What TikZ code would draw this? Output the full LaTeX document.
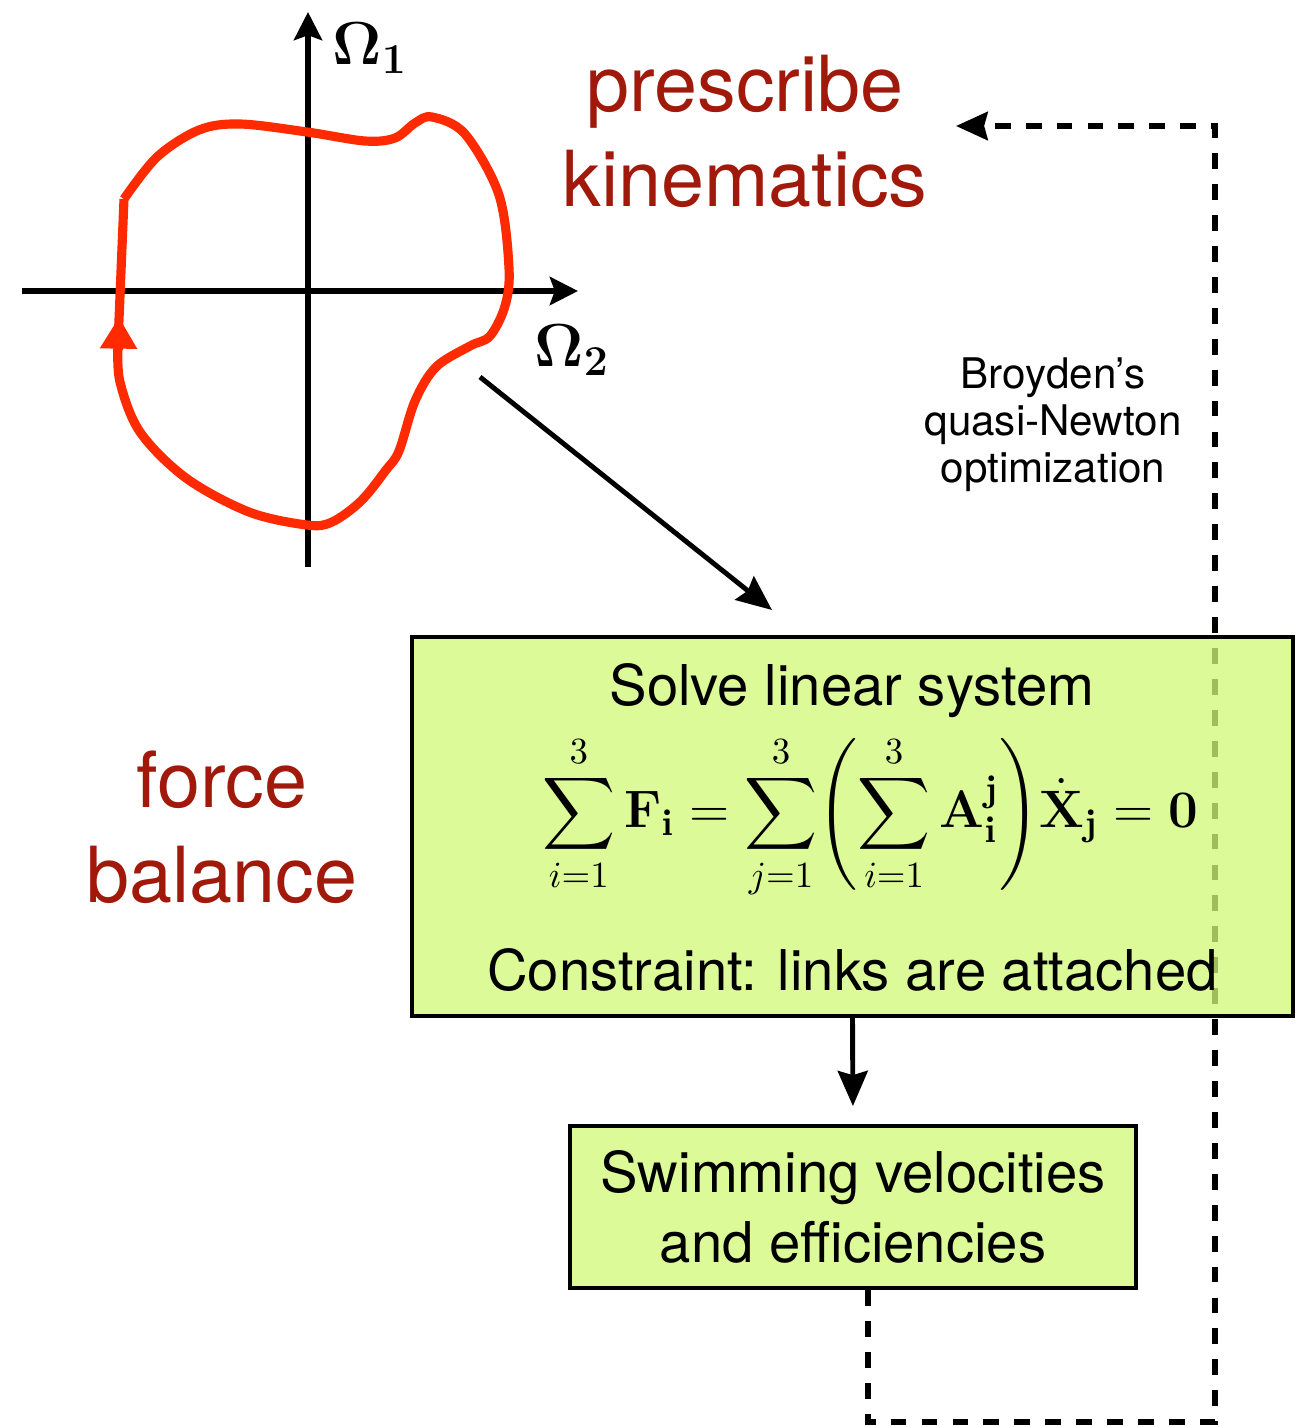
\RequirePackage{fix-cm}
\documentclass[tikz,border=0pt]{standalone}
\usepackage[no-math]{fontspec}
\setmainfont{TeX Gyre Heros}
\usepackage{amsmath}
\usetikzlibrary{arrows.meta,positioning,calc}
\definecolor{KinRed}{HTML}{A0190B}
\definecolor{CurveRed}{HTML}{FF2A00}
\definecolor{PanelGreen}{HTML}{DDFA99}
\definecolor{PanelBase}{HTML}{D2F979}
\tikzset{
  axis/.style={line width=1.6pt, -{Stealth[length=8pt, width=8pt, inset=1.4pt]}},
  gait/.style={draw=CurveRed, line width=2.6pt, line join=round},
  gaittip/.style={draw=CurveRed, fill=CurveRed, line width=2.6pt, -{Triangle[length=9pt, width=10pt]}},
  axislabel/.style={font=\fontsize{17.3}{19}\selectfont},
  bigword/.style={text=KinRed, align=center, font=\fontsize{22}{27}\selectfont},
  smallword/.style={align=center, font=\fontsize{12}{13.4}\selectfont},
  solvebox/.style={draw=black, line width=1.1pt, fill=PanelBase, fill opacity=0.76,
    draw opacity=1, minimum width=8.81cm, minimum height=3.79cm, inner sep=0pt},
  resultbox/.style={draw=black, line width=1.1pt, fill=PanelGreen, align=center,
    minimum width=5.66cm, minimum height=1.62cm, font=\fontsize{16}{20}\selectfont},
  boxtext/.style={font=\fontsize{16}{20}\selectfont, inner sep=0pt},
  eqtext/.style={font=\fontsize{15}{17}\selectfont, inner sep=0pt},
  wire/.style={line width=1.4pt, -{Stealth[length=10pt, width=8.5pt, inset=1.2pt]}},
  feedback/.style={line width=1.6pt, dash pattern=on 4.5pt off 4.3pt,
    -{Stealth[length=9pt, width=8pt, inset=1pt]}}
}
\begin{document}
\begin{tikzpicture}
  \useasboundingbox (0,0) rectangle (12.97,-14.26);
  \draw[axis] (3.08,-5.67) -- (3.08,-0.12);
  \draw[axis] (0.22,-2.91) -- (5.78,-2.91);
  \node[axislabel] (omegaone) at (3.70,-0.48) {$\mathbf{\Omega_1}$};
  \node[axislabel] (omegatwo) at (5.72,-3.50) {$\mathbf{\Omega_2}$};
  \draw[gait] (1.24,-1.99) -- plot[smooth, tension=0.55] coordinates {(1.18,-3.44) (1.20,-3.82)
    (1.40,-4.32) (1.86,-4.78) (2.49,-5.12) (3.07,-5.25) (3.32,-5.22) (3.61,-5.01) (3.86,-4.70)
    (3.99,-4.51) (4.15,-4.01) (4.36,-3.67) (4.70,-3.46) (4.90,-3.36) (5.05,-3.06) (5.09,-2.68)
    (4.99,-1.95) (4.65,-1.34) (4.32,-1.17) (4.15,-1.23) (3.95,-1.38) (3.65,-1.41) (3.07,-1.32)
    (2.40,-1.24) (1.99,-1.30) (1.57,-1.57) (1.24,-1.99)};
  \draw[gaittip] (1.185,-3.50) -- (1.19,-3.17);

  \node[bigword] (prescribe) at (7.45,-1.315) {prescribe\\kinematics};
  \node[bigword] (balance) at (2.22,-8.275) {force\\balance};
  \node[smallword] (broyden) at (10.53,-4.245) {Broyden’s\\quasi-Newton\\optimization};

  \coordinate (loopstart) at (8.68,-12.90);
  \coordinate (loopend) at (9.56,-1.26);
  \draw[feedback] (loopstart) -- ++(0,-1.32) -| (12.15,-1.26) -- (loopend);

  \node[solvebox] (solve) at (8.525,-8.265) {};
  \node[boxtext, anchor=base] (solvetitle) at (8.52,-7.05) {Solve linear system};
  \node[eqtext] (balanceeq) at (8.70,-8.17) {$\displaystyle\sum_{i=1}^{3}\mathbf{F_i}
    =\sum_{j=1}^{3}\!\left(\sum_{i=1}^{3}\mathbf{A_i^j}\right)\!\dot{\mathbf{X}}_{\mathbf{j}}=\mathbf{0}$};
  \node[boxtext, anchor=base] (constraint) at (8.525,-9.90) {Constraint: links are attached};
  \node[resultbox] (result) at (8.53,-12.07) {Swimming velocities\\and efficiencies};

  \coordinate (gaittail) at (4.80,-3.77);
  \coordinate (solvehead) at (7.72,-6.10);
  \draw[wire] (gaittail) -- (solvehead);
  \draw[wire, shorten >=0.18cm] (solve.south) -- (result.north);
\end{tikzpicture}
\end{document}
